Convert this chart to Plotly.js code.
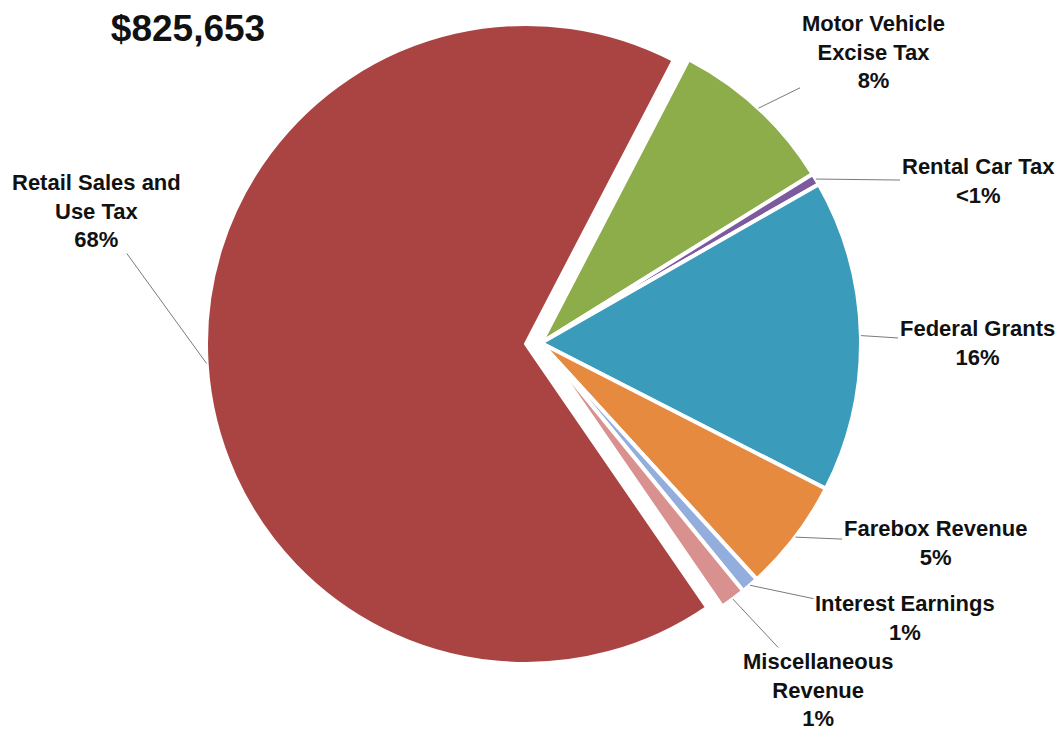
<!DOCTYPE html>
<html>
<head>
<meta charset="utf-8">
<script src="https://cdn.plot.ly/plotly-3.0.1.min.js"></script>
<style>html,body{margin:0;padding:0;background:#fff;}#chart{width:1062px;height:730px;}</style>
</head>
<body>
<div id="chart"></div>
<script>
// ---- data ----
const totalLabel = '$825,653';
const categories = ['Motor Vehicle<br>Excise Tax', 'Rental Car Tax', 'Federal Grants', 'Farebox Revenue', 'Interest Earnings', 'Miscellaneous<br>Revenue', 'Retail Sales and<br>Use Tax'];
const values = [70200, 4900, 130400, 47000, 7400, 10700, 555053];
const percentLabels = ['8%', '&lt;1%', '16%', '5%', '1%', '1%', '68%'];

// ---- style / layout ----
const colors = ['#8DAD4A', '#7B5A9E', '#3A9BBA', '#E58A3E', '#93AEDC', '#D9918F', '#A94443'];
const pulls = [0, 0, 0, 0, 0, 0, 0.047];
const W = 1062, H = 730;
const cx = 541, cy = 343, R = 320;            // intended pie centre / radius in px
const half = R * (1 + Math.max(...pulls));
const rotation = 27.5;
// label text centres (px)
const labelPos = [[873, 52], [978, 181], [977, 343], [935, 543], [905, 618], [818, 690], [96, 211]];

const total = values.reduce((a, b) => a + b, 0);
let cum = 0;
const annotations = [];
values.forEach((v, i) => {
  const mid = (rotation + (cum + v / 2) / total * 360) * Math.PI / 180;
  cum += v;
  const off = pulls[i] * R;
  const tx = cx + (R + off) * Math.sin(mid);
  const ty = cy - (R + off) * Math.cos(mid);
  annotations.push({
    xref: 'paper', yref: 'paper',
    x: tx / W, y: 1 - ty / H,
    ax: labelPos[i][0] - tx, ay: labelPos[i][1] - ty,
    text: '<b>' + categories[i] + '<br>' + percentLabels[i] + '</b>',
    showarrow: true, arrowhead: 0, arrowwidth: 1, arrowcolor: '#7a7a7a',
    standoff: 0, startstandoff: 0,
    align: 'center',
    font: {family: 'Liberation Sans, Arial, sans-serif', size: 22, color: '#111'}
  });
});

const trace = {
  type: 'pie',
  labels: categories,
  values: values,
  sort: false,
  direction: 'clockwise',
  rotation: rotation,
  pull: pulls,
  textinfo: 'none',
  hoverinfo: 'none',
  marker: {colors: colors, line: {color: '#ffffff', width: 4}},
  domain: {x: [(cx - half) / W, (cx + half) / W], y: [1 - (cy + half) / H, 1 - (cy - half) / H]}
};

const layout = {
  width: W, height: H,
  margin: {l: 0, r: 0, t: 0, b: 0},
  showlegend: false,
  paper_bgcolor: '#fff',
  title: {
    text: '<b>' + totalLabel + '</b>',
    x: 188 / W, xanchor: 'center', xref: 'paper',
    y: 1 - 28 / H, yanchor: 'middle', yref: 'container',
    font: {family: 'Liberation Sans, Arial, sans-serif', size: 37, color: '#111'}
  },
  annotations: annotations
};

Plotly.newPlot('chart', [trace], layout, {displayModeBar: false, staticPlot: true});
</script>
</body>
</html>
